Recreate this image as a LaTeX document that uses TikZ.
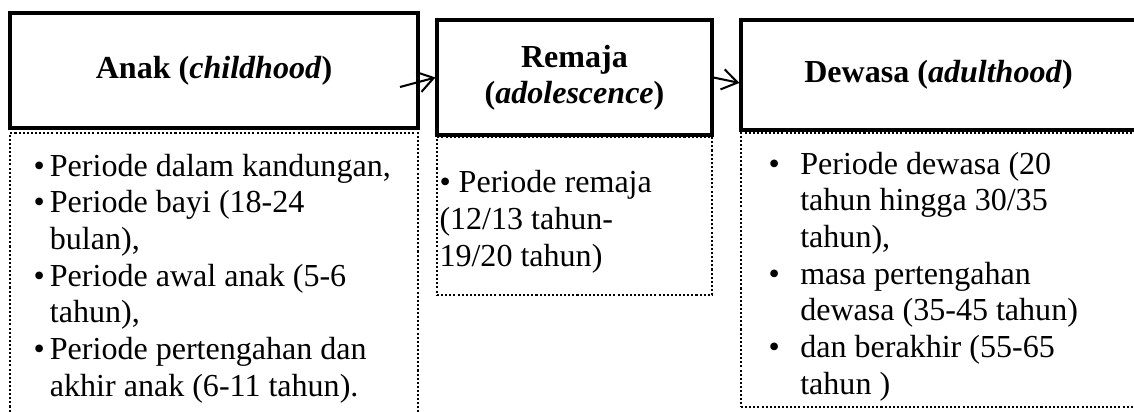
\documentclass[tikz,border=0pt]{standalone}
\usepackage{fontspec}
\setmainfont{Liberation Serif}
\usetikzlibrary{arrows.meta,positioning}

\newcommand\bul[1][6.4pt]{\makebox[#1][l]{\textbullet}}
\newcommand\ind[1][6.4pt]{\hspace*{#1}}

\begin{document}
\begin{tikzpicture}[x=0.39pt, y=-0.39pt,
    stage/.style={draw, line width=1.2pt, align=center, inner sep=0pt,
        font=\fontsize{12.5}{14}\selectfont\bfseries},
    period/.style={draw, line width=0.8pt, dash pattern=on 0.8pt off 0.8pt, inner sep=0pt},
    periodtext/.style={anchor=base west, inner sep=0pt, align=left,
        font=\fontsize{12.5}{14.3}\selectfont},
    arrow/.style={line width=0.8pt, -{Straight Barb[length=6pt,width=8pt]}}]
    \useasboundingbox (0,0) rectangle (1134,412);

    % stages
    \node [stage, minimum width=408*0.39pt, minimum height=115*0.39pt] (anak) at (214,70.5)
        {Anak (\textit{childhood})};
    \node [stage, minimum width=275*0.39pt, minimum height=115*0.39pt] (remaja) at (574.5,77.5)
        {\raisebox{-3pt}{Remaja}\\\raisebox{-3pt}{(\textit{adolescence})}};
    \node [stage, minimum width=395*0.39pt, minimum height=110*0.39pt] (dewasa) at (938.5,75)
        {Dewasa (\textit{adulthood})};

    % periods (base = last line)
    \node [period, minimum width=408*0.39pt, minimum height=290*0.39pt] (anakBox) at (214,278) {};
    \node [period, minimum width=275*0.39pt, minimum height=158*0.39pt] (remajaBox) at (574.5,216) {};
    \node [period, minimum width=395*0.39pt, minimum height=274*0.39pt] (dewasaBox) at (938.5,270) {};

    \node [periodtext] (anakList) at (33,396) {%
        \bul Periode dalam kandungan,\\
        \bul Periode bayi (18-24\\
        \ind bulan),\\
        \bul Periode awal anak (5-6\\
        \ind tahun),\\
        \bul Periode pertengahan dan\\
        \ind akhir anak (6-11 tahun).};
    \node [periodtext] (remajaList) at (439,266) {%
        \textbullet\ Periode remaja\\
        (12/13 tahun-\\
        19/20 tahun)};
    \node [periodtext] (dewasaList) at (768,394) {%
        \bul[12.4pt]Periode dewasa (20\\
        \ind[12.4pt]tahun hingga 30/35\\
        \ind[12.4pt]tahun),\\
        \bul[12.4pt]masa pertengahan\\
        \ind[12.4pt]dewasa (35-45 tahun)\\
        \bul[12.4pt]dan berakhir (55-65\\
        \ind[12.4pt]tahun )};

    % arrows
    \coordinate (anakTail) at (400,87);
    \draw [arrow] (anakTail) -- (remaja.west);
    \draw [arrow] (remaja.east) -- ([yshift=-3.1pt]dewasa.west);
\end{tikzpicture}
\end{document}
